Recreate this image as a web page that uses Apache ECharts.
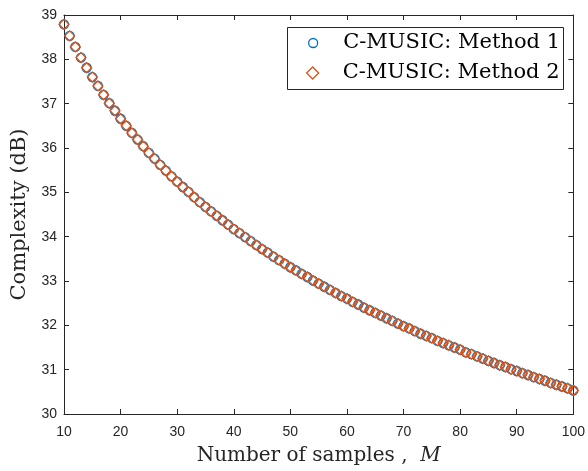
<!DOCTYPE html>
<html>
<head>
<meta charset="utf-8">
<script src="https://cdn.jsdelivr.net/npm/echarts@6/dist/echarts.min.js"></script>
<style>
  html, body { margin: 0; padding: 0; background: #fff; }
  #chart { width: 588px; height: 471px; }
</style>
</head>
<body>
<div id="chart"></div>
<script>
// Number of samples M
const sampleCounts = [
  10, 11, 12, 13, 14, 15, 16, 17, 18, 19,
  20, 21, 22, 23, 24, 25, 26, 27, 28, 29,
  30, 31, 32, 33, 34, 35, 36, 37, 38, 39,
  40, 41, 42, 43, 44, 45, 46, 47, 48, 49,
  50, 51, 52, 53, 54, 55, 56, 57, 58, 59,
  60, 61, 62, 63, 64, 65, 66, 67, 68, 69,
  70, 71, 72, 73, 74, 75, 76, 77, 78, 79,
  80, 81, 82, 83, 84, 85, 86, 87, 88, 89,
  90, 91, 92, 93, 94, 95, 96, 97, 98, 99,
  100
];

// Complexity in dB, C-MUSIC method 1
const method1Complexity = [
  38.79, 38.53, 38.28, 38.04, 37.81, 37.60, 37.40, 37.20, 37.01, 36.84,
  36.66, 36.50, 36.34, 36.19, 36.04, 35.89, 35.76, 35.62, 35.49, 35.36,
  35.24, 35.12, 35.01, 34.89, 34.78, 34.67, 34.57, 34.47, 34.37, 34.27,
  34.17, 34.08, 33.99, 33.90, 33.81, 33.72, 33.64, 33.55, 33.47, 33.39,
  33.31, 33.24, 33.16, 33.09, 33.01, 32.94, 32.87, 32.80, 32.73, 32.66,
  32.60, 32.53, 32.47, 32.40, 32.34, 32.28, 32.22, 32.16, 32.10, 32.04,
  31.98, 31.93, 31.87, 31.81, 31.76, 31.71, 31.65, 31.60, 31.55, 31.50,
  31.45, 31.39, 31.35, 31.30, 31.25, 31.20, 31.15, 31.10, 31.06, 31.01,
  30.97, 30.92, 30.88, 30.83, 30.79, 30.75, 30.70, 30.66, 30.62, 30.58,
  30.53
];

// Complexity in dB, C-MUSIC method 2
const method2Complexity = [
  38.79, 38.53, 38.28, 38.04, 37.81, 37.60, 37.40, 37.20, 37.01, 36.84,
  36.66, 36.50, 36.34, 36.19, 36.04, 35.89, 35.76, 35.62, 35.49, 35.36,
  35.24, 35.12, 35.01, 34.89, 34.78, 34.67, 34.57, 34.47, 34.37, 34.27,
  34.17, 34.08, 33.99, 33.90, 33.81, 33.72, 33.64, 33.55, 33.47, 33.39,
  33.31, 33.24, 33.16, 33.09, 33.01, 32.94, 32.87, 32.80, 32.73, 32.66,
  32.60, 32.53, 32.47, 32.40, 32.34, 32.28, 32.22, 32.16, 32.10, 32.04,
  31.98, 31.93, 31.87, 31.81, 31.76, 31.71, 31.65, 31.60, 31.55, 31.50,
  31.45, 31.39, 31.35, 31.30, 31.25, 31.20, 31.15, 31.10, 31.06, 31.01,
  30.97, 30.92, 30.88, 30.83, 30.79, 30.75, 30.70, 30.66, 30.62, 30.58,
  30.53
];

const seriesNames = ['C-MUSIC: Method 1', 'C-MUSIC: Method 2'];
const xTicks = { min: 10, max: 100, step: 10 };
const yTicks = { min: 30, max: 39, step: 1 };

const AXIS_COLOR = '#262626';
const BLUE = '#0072BD';
const ORANGE = '#D95319';
const SANS = '"Liberation Sans", Arial, Helvetica, sans-serif';
const SERIF = '"DejaVu Serif", "Liberation Serif", serif';
const DIAMOND = 'path://M0,-6L6,0L0,6L-6,0Z';
const MARKER_LINE = 1.3;

const pairs = (ys) => sampleCounts.map((m, i) => [m, ys[i]]);

const boxAxisX = (position, showLabels) => ({
  type: 'value',
  position,
  min: xTicks.min, max: xTicks.max, interval: xTicks.step,
  axisLine: { show: true, onZero: false, lineStyle: { color: AXIS_COLOR, width: 1 } },
  axisTick: { show: true, inside: true, length: 5, lineStyle: { color: AXIS_COLOR } },
  axisLabel: { show: showLabels, color: AXIS_COLOR, fontFamily: SANS, fontSize: 14, margin: 11 },
  splitLine: { show: false }
});

const boxAxisY = (position, showLabels) => ({
  type: 'value',
  position,
  min: yTicks.min, max: yTicks.max, interval: yTicks.step,
  axisLine: { show: true, onZero: false, lineStyle: { color: AXIS_COLOR, width: 1 } },
  axisTick: { show: true, inside: true, length: 5, lineStyle: { color: AXIS_COLOR } },
  axisLabel: { show: showLabels, color: AXIS_COLOR, fontFamily: SANS, fontSize: 14, margin: 7 },
  splitLine: { show: false }
});

const xBottom = Object.assign(boxAxisX('bottom', true), {
  name: 'Number of samples ,  {i|M}',
  nameLocation: 'middle',
  nameGap: 32,
  nameTextStyle: {
    color: AXIS_COLOR, fontFamily: SERIF, fontSize: 20,
    rich: { i: { fontFamily: SERIF, fontStyle: 'italic', fontSize: 20, color: AXIS_COLOR } }
  }
});

const yLeft = Object.assign(boxAxisY('left', true), {
  name: 'Complexity (dB)',
  nameLocation: 'middle',
  nameGap: 29,
  nameTextStyle: { color: AXIS_COLOR, fontFamily: SERIF, fontSize: 21 }
});

const legendText = { color: '#000', fontFamily: SERIF, fontSize: 21, lineHeight: 24 };

const option = {
  backgroundColor: '#ffffff',
  animation: false,
  grid: { left: 64, right: 11, top: 15, bottom: 54, containLabel: false },
  xAxis: [xBottom, boxAxisX('top', false)],
  yAxis: [yLeft, boxAxisY('right', false)],
  graphic: [{
    type: 'rect',
    z: 1,
    shape: { x: 287.5, y: 27.5, width: 276, height: 62 },
    style: { fill: '#ffffff', stroke: AXIS_COLOR, lineWidth: 1 }
  }],
  legend: [
    {
      z: 5, left: 308, top: 31, padding: 0,
      itemWidth: 50, itemHeight: 9,
      data: [{ name: seriesNames[0], icon: 'circle',
               itemStyle: { color: 'rgba(0,0,0,0)', borderColor: BLUE, borderWidth: MARKER_LINE, opacity: 1 } }],
      textStyle: legendText,
      selectedMode: false
    },
    {
      z: 5, left: 306, top: 61, padding: 0,
      itemWidth: 50, itemHeight: 12,
      data: [{ name: seriesNames[1], icon: DIAMOND,
               itemStyle: { color: 'rgba(0,0,0,0)', borderColor: ORANGE, borderWidth: MARKER_LINE, opacity: 1 } }],
      textStyle: legendText,
      selectedMode: false
    }
  ],
  series: [
    {
      name: seriesNames[0],
      type: 'scatter',
      xAxisIndex: 0, yAxisIndex: 0,
      symbol: 'circle',
      symbolSize: 9,
      itemStyle: { color: 'rgba(0,0,0,0)', borderColor: BLUE, borderWidth: MARKER_LINE, opacity: 1 },
      emphasis: { disabled: true },
      data: pairs(method1Complexity),
      z: 2
    },
    {
      name: seriesNames[1],
      type: 'scatter',
      xAxisIndex: 0, yAxisIndex: 0,
      symbol: DIAMOND,
      symbolSize: 10,
      itemStyle: { color: 'rgba(0,0,0,0)', borderColor: ORANGE, borderWidth: MARKER_LINE, opacity: 1 },
      emphasis: { disabled: true },
      data: pairs(method2Complexity),
      z: 3
    }
  ]
};

const chart = echarts.init(document.getElementById('chart'), null, { renderer: 'canvas' });
chart.setOption(option);
</script>
</body>
</html>
